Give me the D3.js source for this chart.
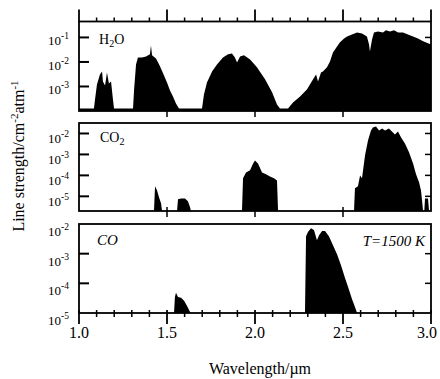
<!DOCTYPE html>
<html>
<head>
<meta charset="utf-8">
<script src="https://cdn.jsdelivr.net/npm/d3@7"></script>
<style>
  body { margin: 0; background: #fff; }
  text { font-family: "Liberation Serif", "DejaVu Serif", serif; fill: #000; }
</style>
</head>
<body>
<svg id="chart" width="440" height="379"></svg>
<script>
// wavelength in um, line strength as log10 (cm^-2 atm^-1)
const xTicks = [1.0, 1.5, 2.0, 2.5, 3.0];

const h2oWave = [1.0, 1.085, 1.091, 1.102, 1.119, 1.131, 1.136, 1.148, 1.159, 1.17, 1.182, 1.193, 1.199,
  1.307, 1.313, 1.324, 1.335, 1.358, 1.381, 1.403, 1.409, 1.415, 1.4375, 1.46, 1.483, 1.5, 1.517, 1.534, 1.551, 1.568,
  1.699, 1.71, 1.727, 1.756, 1.784, 1.818, 1.847, 1.869, 1.886, 1.898, 1.915, 1.9375, 1.972, 2.011, 2.057, 2.097, 2.125, 2.142,
  2.1875, 2.216, 2.256, 2.295, 2.33, 2.347, 2.358, 2.375, 2.386, 2.409, 2.426, 2.443, 2.466, 2.483, 2.506, 2.523, 2.551,
  2.58, 2.608, 2.636, 2.648, 2.653, 2.665, 2.676, 2.699, 2.727, 2.744, 2.767, 2.79, 2.813, 2.841, 2.869, 2.898, 2.926, 2.955, 2.983, 3.0];
const h2oLogS = [-3.9, -3.9, -3.53, -2.92, -2.51, -2.39, -2.8, -2.96, -2.43, -2.88, -2.8, -3.53, -3.9,
  -3.9, -3.12, -2.1, -1.82, -1.82, -1.78, -1.69, -1.33, -1.73, -1.86, -2.18, -2.55, -2.84, -3.16, -3.41, -3.69, -3.9,
  -3.9, -3.33, -2.84, -2.39, -2.1, -1.82, -1.69, -1.65, -1.82, -2.02, -1.78, -1.73, -1.9, -2.22, -2.71, -3.24, -3.73, -3.9,
  -3.9, -3.65, -3.41, -3.12, -2.71, -2.51, -2.8, -2.43, -2.39, -2.22, -1.98, -1.61, -1.37, -1.2, -1.04, -0.96, -0.88,
  -0.8, -0.84, -0.96, -1.29, -1.57, -1.08, -0.8, -0.76, -0.8, -0.71, -0.76, -0.71, -0.8, -0.8, -0.88, -0.96, -1.04, -1.16, -1.24, -1.29];

const co2Wave = [1.0, 1.426, 1.432, 1.443, 1.455, 1.466, 1.472,
  1.557, 1.5625, 1.58, 1.602, 1.619, 1.631, 1.636,
  1.926, 1.932, 1.949, 1.972, 1.989, 2.0, 2.017, 2.04, 2.0625, 2.085, 2.108, 2.125, 2.131,
  2.5625, 2.568, 2.585, 2.597, 2.608, 2.625, 2.642, 2.659, 2.67, 2.6875, 2.705, 2.722, 2.739, 2.761, 2.778, 2.795, 2.8125,
  2.83, 2.852, 2.875, 2.898, 2.915, 2.932, 2.943, 2.949, 2.955, 2.962, 2.966, 2.983, 2.989, 3.0];
const co2LogS = [-5.7, -5.7, -4.52, -4.71, -5.05, -5.33, -5.7,
  -5.7, -5.14, -5.1, -5.1, -5.24, -5.52, -5.7,
  -5.7, -4.14, -3.86, -3.76, -3.43, -3.29, -3.43, -3.86, -3.95, -4.05, -4.14, -4.24, -5.7,
  -5.7, -4.62, -4.52, -4.0, -4.14, -3.05, -2.33, -1.86, -1.71, -1.67, -1.86, -1.76, -1.86, -1.76, -1.9, -2.05, -1.9,
  -2.19, -2.48, -2.9, -3.43, -3.95, -4.33, -4.71, -5.19, -5.7, -5.7, -5.1, -5.1, -5.7, -5.7];

const coWave = [1.0, 1.54, 1.545, 1.551, 1.5625, 1.58, 1.597, 1.614, 1.631, 1.636,
  2.284, 2.29, 2.301, 2.318, 2.335, 2.352, 2.364, 2.381, 2.398, 2.42, 2.443, 2.466, 2.489, 2.511, 2.534, 2.551, 2.568, 2.58, 2.585, 3.0];
const coLogS = [-5, -5, -4.46, -4.32, -4.46, -4.49, -4.59, -4.76, -4.97, -5,
  -5, -2.41, -2.27, -2.14, -2.2, -2.55, -2.38, -2.24, -2.24, -2.41, -2.72, -3.02, -3.4, -3.81, -4.22, -4.53, -4.8, -5, -5, -5];

const h2oTickExp = [-1, -2, -3];
const co2TickExp = [-2, -3, -4, -5];
const coTickExp = [-2, -3, -4, -5];

const svg = d3.select("#chart");
const left = 79, right = 431;

const x = d3.scaleLinear().domain([1.0, 3.0]).range([left, right]);

const panels = [
  { name: "H2O", wave: h2oWave, logs: h2oLogS, ticks: h2oTickExp, domain: [-4, -0.35], top: 21.5, bottom: 111, labelDy: 8 },
  { name: "CO2", wave: co2Wave, logs: co2LogS, ticks: co2TickExp, domain: [-5.7, -1.5], top: 123, bottom: 211, labelDy: 10 },
  { name: "CO", wave: coWave, logs: coLogS, ticks: coTickExp, domain: [-5, -2], top: 224, bottom: 313, labelDy: 12 }
];

panels.forEach(function (p, i) {
  const y = d3.scaleLog()
    .domain(p.domain.map(e => Math.pow(10, e)))
    .range([p.bottom, p.top]);
  const pts = p.wave.map((w, k) => ({ w: w, s: Math.pow(10, p.logs[k]) }));

  const g = svg.append("g");

  g.append("path")
    .datum(pts)
    .attr("fill", "#000")
    .attr("d", d3.area()
      .x(d => x(d.w))
      .y0(p.bottom)
      .y1(d => y(d.s)));

  g.append("rect")
    .attr("x", left).attr("y", p.top)
    .attr("width", right - left).attr("height", p.bottom - p.top)
    .attr("fill", "none").attr("stroke", "#000").attr("stroke-width", 1.8);

  // y ticks, inward on both sides
  p.ticks.forEach(function (e) {
    const ty = y(Math.pow(10, e));
    if (ty > p.top + 2 && ty < p.bottom - 2) {
      g.append("line").attr("x1", left).attr("x2", left + 10).attr("y1", ty).attr("y2", ty)
        .attr("stroke", "#000").attr("stroke-width", 2);
      g.append("line").attr("x1", right).attr("x2", right - 6).attr("y1", ty).attr("y2", ty)
        .attr("stroke", "#000").attr("stroke-width", 1.5);
    }
    const t = g.append("text")
      .attr("x", 69).attr("y", ty + p.labelDy)
      .attr("text-anchor", "end")
      .style("font-size", "13px");
    t.append("tspan").text("10");
    t.append("tspan").attr("dy", -6).style("font-size", "9.5px").text(String(e));
  });

  // x ticks
  const minor = d3.range(10, 31).map(v => v / 10);
  if (i === 0) {
    minor.forEach(function (w) {
      const major = Math.abs(w * 2 - Math.round(w * 2)) < 1e-6;
      g.append("line").attr("x1", x(w)).attr("x2", x(w))
        .attr("y1", p.top).attr("y2", p.top - (major ? 12 : 4))
        .attr("stroke", "#000").attr("stroke-width", major ? 1.8 : 1.5);
    });
  }
  if (i < 2) {
    xTicks.slice(1, -1).forEach(function (w) {
      g.append("line").attr("x1", x(w)).attr("x2", x(w))
        .attr("y1", p.bottom - 4).attr("y2", p.bottom + 6)
        .attr("stroke", "#000").attr("stroke-width", 1.5);
    });
  } else {
    minor.forEach(function (w) {
      const major = Math.abs(w * 2 - Math.round(w * 2)) < 1e-6;
      g.append("line").attr("x1", x(w)).attr("x2", x(w))
        .attr("y1", p.bottom - 3).attr("y2", p.bottom + (major ? 11 : 4))
        .attr("stroke", "#000").attr("stroke-width", major ? 1.8 : 1.5);
    });
    xTicks.forEach(function (w, k) {
      // last label sits against the page edge
      const shift = k === xTicks.length - 1 ? -4 : 0;
      g.append("text").attr("x", x(w) + shift).attr("y", 338)
        .attr("text-anchor", "middle").style("font-size", "16px")
        .text(w.toFixed(1));
    });
  }
});

// species labels
const h2o = svg.append("text").attr("x", 99).attr("y", 44).style("font-size", "14px");
h2o.append("tspan").text("H");
h2o.append("tspan").attr("dy", 3).style("font-size", "10px").text("2");
h2o.append("tspan").attr("dy", -3).text("O");

const co2 = svg.append("text").attr("x", 100).attr("y", 142).style("font-size", "14px");
co2.append("tspan").text("CO");
co2.append("tspan").attr("dy", 3).style("font-size", "10px").text("2");

svg.append("text").attr("x", 97).attr("y", 245).style("font-size", "15px")
  .style("font-style", "italic").text("CO");

svg.append("text").attr("x", 425).attr("y", 246).attr("text-anchor", "end")
  .style("font-size", "15px").style("font-style", "italic").text("T=1500 K");

// axis titles
svg.append("text").attr("x", 260).attr("y", 374).attr("text-anchor", "middle")
  .style("font-size", "16px").text("Wavelength/\u00b5m");

const yt = svg.append("text")
  .attr("transform", "translate(24,156) rotate(-90)")
  .attr("text-anchor", "middle").style("font-size", "16px");
yt.append("tspan").text("Line strength/cm");
yt.append("tspan").attr("dy", -6).style("font-size", "11px").text("-2");
yt.append("tspan").attr("dy", 6).text("atm");
yt.append("tspan").attr("dy", -6).style("font-size", "11px").text("-1");
</script>
</body>
</html>
